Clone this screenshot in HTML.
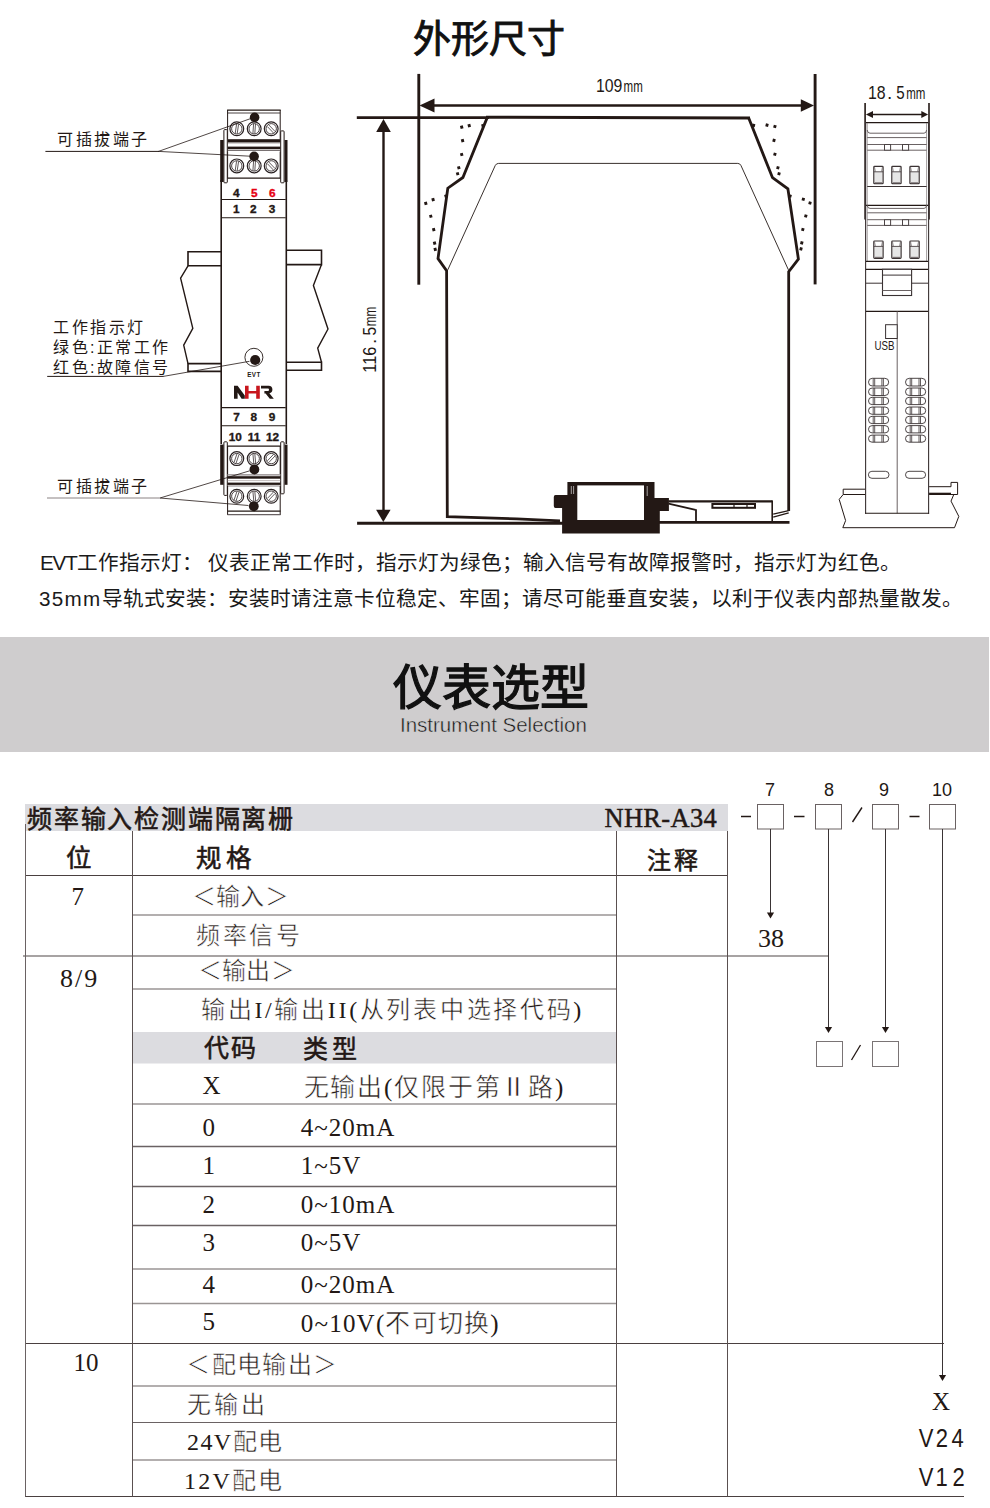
<!DOCTYPE html>
<html lang="zh-CN"><head><meta charset="utf-8">
<style>
*{margin:0;padding:0;box-sizing:border-box}
html,body{width:990px;height:1508px;background:#fff;overflow:hidden}
body{position:relative;font-family:"Liberation Sans",sans-serif;color:#231815}
.a{position:absolute;white-space:nowrap;line-height:1}
#band{position:absolute;left:0;top:637px;width:989px;height:115px;background:#cfcdce}
svg{position:absolute;left:0;top:0}
</style></head><body>
<div id="band"></div>
<svg width="990" height="1508" viewBox="0 0 990 1508"><rect x="25" y="804" width="703" height="27" fill="#dcdce0"/><rect x="132" y="1032" width="485" height="31.5" fill="#dcdce0"/><line x1="25" y1="875.5" x2="728" y2="875.5" stroke="#4a4040" stroke-width="1"/><line x1="132" y1="915" x2="617" y2="915" stroke="#9a9594" stroke-width="1.6"/><line x1="23" y1="956" x2="829" y2="956" stroke="#8a8485" stroke-width="1.6"/><line x1="132" y1="989" x2="616" y2="989" stroke="#9a9594" stroke-width="1.6"/><line x1="132" y1="1104" x2="617" y2="1104" stroke="#9a9594" stroke-width="1.3"/><line x1="132" y1="1146.5" x2="617" y2="1146.5" stroke="#6a6263" stroke-width="1.3"/><line x1="132" y1="1186.5" x2="617" y2="1186.5" stroke="#6a6263" stroke-width="1.3"/><line x1="132" y1="1225.5" x2="617" y2="1225.5" stroke="#6a6263" stroke-width="1.3"/><line x1="132" y1="1269" x2="617" y2="1269" stroke="#9a9594" stroke-width="1.3"/><line x1="132" y1="1303.5" x2="617" y2="1303.5" stroke="#9a9594" stroke-width="1.3"/><line x1="25" y1="1343.5" x2="944" y2="1343.5" stroke="#4a4040" stroke-width="1"/><line x1="132" y1="1386" x2="617" y2="1386" stroke="#9a9594" stroke-width="1.6"/><line x1="132" y1="1422.5" x2="617" y2="1422.5" stroke="#6a6263" stroke-width="1.2"/><line x1="132" y1="1460" x2="617" y2="1460" stroke="#9a9594" stroke-width="1.6"/><line x1="25" y1="1496.5" x2="964" y2="1496.5" stroke="#4a4040" stroke-width="1"/><line x1="25.5" y1="824" x2="25.5" y2="1496.5" stroke="#6a6263" stroke-width="1"/><line x1="132.5" y1="831" x2="132.5" y2="1496.5" stroke="#5a5050" stroke-width="1"/><line x1="616.5" y1="831" x2="616.5" y2="1496.5" stroke="#5a5050" stroke-width="1"/><line x1="727.5" y1="831" x2="727.5" y2="1496.5" stroke="#5a5050" stroke-width="1"/><rect x="757.5" y="804.5" width="26" height="24.5" fill="none" stroke="#6a6263" stroke-width="1"/><rect x="815.5" y="804.5" width="26" height="24.5" fill="none" stroke="#6a6263" stroke-width="1"/><rect x="872.5" y="804.5" width="26" height="24.5" fill="none" stroke="#6a6263" stroke-width="1"/><rect x="929.5" y="804.5" width="26" height="24.5" fill="none" stroke="#6a6263" stroke-width="1"/><line x1="741" y1="816.5" x2="751" y2="816.5" stroke="#231815" stroke-width="1.5"/><line x1="794" y1="816.5" x2="804.5" y2="816.5" stroke="#231815" stroke-width="1.5"/><line x1="909.5" y1="816.5" x2="919.5" y2="816.5" stroke="#231815" stroke-width="1.5"/><line x1="852.5" y1="822" x2="862" y2="807.5" stroke="#231815" stroke-width="1.4"/><line x1="770.5" y1="829" x2="770.5" y2="913" stroke="#3a3435" stroke-width="1"/><line x1="828.5" y1="829" x2="828.5" y2="1028" stroke="#3a3435" stroke-width="1"/><line x1="885.5" y1="829" x2="885.5" y2="1028" stroke="#3a3435" stroke-width="1"/><line x1="942.5" y1="829" x2="942.5" y2="1376" stroke="#3a3435" stroke-width="1"/><path d="M766.9 912.5 L774.1 912.5 L770.5 918.5 Z" fill="#231815"/><path d="M824.9 1027 L832.1 1027 L828.5 1033 Z" fill="#231815"/><path d="M881.9 1027 L889.1 1027 L885.5 1033 Z" fill="#231815"/><path d="M938.9 1375 L946.1 1375 L942.5 1381 Z" fill="#231815"/><rect x="816.5" y="1041.5" width="26" height="25" fill="none" stroke="#7a7475" stroke-width="1"/><rect x="872.5" y="1041.5" width="26" height="25" fill="none" stroke="#7a7475" stroke-width="1"/><line x1="851.5" y1="1060" x2="860.5" y2="1045" stroke="#231815" stroke-width="1.3"/><line x1="227.1" y1="110.2" x2="280.7" y2="110.2" stroke="#231815" stroke-width="1.3" />
<line x1="227.6" y1="113.0" x2="280.2" y2="113.0" stroke="#4a4243" stroke-width="1.0" />
<line x1="227.6" y1="110" x2="227.6" y2="139.5" stroke="#231815" stroke-width="1.0" />
<line x1="280.2" y1="110" x2="280.2" y2="139.5" stroke="#231815" stroke-width="1.0" />
<circle cx="236.8" cy="128.8" r="6.9" stroke="#2a2223" stroke-width="1.2" fill="none"/>
<circle cx="236.8" cy="128.8" r="5.2" stroke="#4a4243" stroke-width="1.0" fill="none"/>
<line x1="235.20000000000002" y1="133.4" x2="236.60000000000002" y2="124.00000000000001" stroke="#3a3233" stroke-width="0.8" />
<line x1="237.20000000000002" y1="133.60000000000002" x2="238.60000000000002" y2="124.20000000000002" stroke="#3a3233" stroke-width="0.8" />
<circle cx="254.2" cy="128.8" r="6.9" stroke="#2a2223" stroke-width="1.2" fill="none"/>
<circle cx="254.2" cy="128.8" r="5.2" stroke="#4a4243" stroke-width="1.0" fill="none"/>
<line x1="252.89999999999998" y1="133.70000000000002" x2="253.6" y2="123.9" stroke="#3a3233" stroke-width="0.8" />
<line x1="254.79999999999998" y1="133.70000000000002" x2="255.5" y2="123.9" stroke="#3a3233" stroke-width="0.8" />
<circle cx="271.2" cy="128.8" r="6.9" stroke="#2a2223" stroke-width="1.2" fill="none"/>
<circle cx="271.2" cy="128.8" r="5.2" stroke="#4a4243" stroke-width="1.0" fill="none"/>
<line x1="267.3" y1="126.50000000000001" x2="273.7" y2="133.20000000000002" stroke="#3a3233" stroke-width="0.8" />
<line x1="268.7" y1="124.80000000000001" x2="275.09999999999997" y2="131.5" stroke="#3a3233" stroke-width="0.8" />
<rect x="227.5" y="139.2" width="53" height="3.3" fill="#231815"/>
<line x1="227.5" y1="143.2" x2="280.5" y2="143.2" stroke="#9a9090" stroke-width="0.6" />
<rect x="227.5" y="146.6" width="53" height="2.6" fill="#231815"/>
<line x1="227.5" y1="150.4" x2="280.5" y2="150.4" stroke="#6a6263" stroke-width="1.0" />
<line x1="227.6" y1="151.5" x2="227.6" y2="178.5" stroke="#231815" stroke-width="1.0" />
<line x1="280.2" y1="151.5" x2="280.2" y2="178.5" stroke="#231815" stroke-width="1.0" />
<circle cx="236.8" cy="165.9" r="6.9" stroke="#2a2223" stroke-width="1.2" fill="none"/>
<circle cx="236.8" cy="165.9" r="5.2" stroke="#4a4243" stroke-width="1.0" fill="none"/>
<line x1="235.20000000000002" y1="170.5" x2="236.60000000000002" y2="161.1" stroke="#3a3233" stroke-width="0.8" />
<line x1="237.20000000000002" y1="170.70000000000002" x2="238.60000000000002" y2="161.3" stroke="#3a3233" stroke-width="0.8" />
<circle cx="254.2" cy="165.9" r="6.9" stroke="#2a2223" stroke-width="1.2" fill="none"/>
<circle cx="254.2" cy="165.9" r="5.2" stroke="#4a4243" stroke-width="1.0" fill="none"/>
<line x1="252.89999999999998" y1="170.8" x2="253.6" y2="161.0" stroke="#3a3233" stroke-width="0.8" />
<line x1="254.79999999999998" y1="170.8" x2="255.5" y2="161.0" stroke="#3a3233" stroke-width="0.8" />
<circle cx="271.2" cy="165.9" r="6.9" stroke="#2a2223" stroke-width="1.2" fill="none"/>
<circle cx="271.2" cy="165.9" r="5.2" stroke="#4a4243" stroke-width="1.0" fill="none"/>
<line x1="267.3" y1="163.6" x2="273.7" y2="170.3" stroke="#3a3233" stroke-width="0.8" />
<line x1="268.7" y1="161.9" x2="275.09999999999997" y2="168.6" stroke="#3a3233" stroke-width="0.8" />
<line x1="227.5" y1="178.1" x2="280.5" y2="178.1" stroke="#231815" stroke-width="1.4" />
<rect x="223.9" y="129.6" width="3.4" height="53.2" stroke="#231815" stroke-width="1.0" fill="#fff" rx="0.8"/>
<rect x="280.7" y="130.9" width="3.4" height="51.9" stroke="#231815" stroke-width="1.0" fill="#fff" rx="0.8"/>
<rect x="220.2" y="140" width="3.4" height="42" fill="#231815"/>
<rect x="284.6" y="140" width="2.9" height="42" fill="#231815"/>
<line x1="221.2" y1="180" x2="221.2" y2="444" stroke="#231815" stroke-width="1.6" />
<line x1="286.3" y1="180" x2="286.3" y2="444" stroke="#231815" stroke-width="1.6" />
<circle cx="254.6" cy="117.4" r="4.8" fill="#231815"/>
<circle cx="254.1" cy="156.4" r="4.8" fill="#231815"/>
<line x1="158.5" y1="151.4" x2="250" y2="118.8" stroke="#231815" stroke-width="0.8" />
<line x1="158.5" y1="151.4" x2="250" y2="156.2" stroke="#231815" stroke-width="0.8" />
<line x1="45.4" y1="151.4" x2="159" y2="151.4" stroke="#231815" stroke-width="1.0" />
<line x1="221.9" y1="199.5" x2="285.7" y2="199.5" stroke="#231815" stroke-width="1.1" />
<line x1="221.9" y1="217.7" x2="285.7" y2="217.7" stroke="#231815" stroke-width="1.1" />
<path d="M221 251.7 L188 251.7 L188 265.8 L221 265.8" stroke="#231815" stroke-width="1.6" fill="none" stroke-linejoin="miter" />
<path d="M188 265.8 L180.6 278.1 L192.8 328.4 L183.7 345.1 L188 363.6" stroke="#231815" stroke-width="1.4" fill="none" stroke-linejoin="miter" />
<path d="M221 363.6 L188 363.6 L188 371.4 L221 371.4" stroke="#231815" stroke-width="1.6" fill="none" stroke-linejoin="miter" />
<path d="M286.8 250.3 L321.5 250.3 L321.5 264.6 L286.8 264.6" stroke="#231815" stroke-width="1.6" fill="none" stroke-linejoin="miter" />
<path d="M321.5 264.6 L313.4 285.5 L328 329 L317.7 348.2 L321.5 362.3" stroke="#231815" stroke-width="1.4" fill="none" stroke-linejoin="miter" />
<path d="M286.8 362.3 L321.5 362.3 L321.5 370.2 L286.8 370.2" stroke="#231815" stroke-width="1.6" fill="none" stroke-linejoin="miter" />
<circle cx="253.9" cy="357.3" r="9.0" stroke="#231815" stroke-width="0.9" fill="none"/>
<circle cx="255.2" cy="360.0" r="5.1" fill="#231815"/>
<line x1="249.5" y1="361.3" x2="163.3" y2="376.4" stroke="#231815" stroke-width="0.8" />
<line x1="47.2" y1="376.4" x2="163.6" y2="376.4" stroke="#231815" stroke-width="1.0" />
<path d="M234 385.8 L237.6 385.8 L244.8 395.6 L244.8 398.7 L241.6 398.7 L237.6 392.6 L237.6 398.7 L234 398.7 Z" fill="#231815"/>
<path d="M245 385.8 L248.6 385.8 L248.6 390.9 L256.2 390.9 L256.2 385.8 L259.8 385.8 L259.8 398.7 L256.2 398.7 L256.2 393.6 L248.6 393.6 L248.6 398.7 L245 398.7 Z" fill="#c8161d"/>
<path d="M261 385.8 L268.6 385.8 Q272.4 385.8 272.4 389.6 Q272.4 392.7 269.4 393.3 L273.8 398.7 L269.8 398.7 L265.6 393.5 L264.4 393.5 L264.4 391.0 L268.0 391.0 Q269.0 391.0 269.0 389.7 Q269.0 388.4 268.0 388.4 L261 388.4 Z" fill="#231815"/>
<line x1="221.9" y1="407.6" x2="285.7" y2="407.6" stroke="#231815" stroke-width="1.1" />
<line x1="221.9" y1="425.8" x2="285.7" y2="425.8" stroke="#231815" stroke-width="1.1" />
<rect x="223.9" y="441.8" width="3.4" height="53.6" stroke="#231815" stroke-width="1.0" fill="#fff" rx="0.8"/>
<rect x="280.7" y="441.8" width="3.4" height="52.0" stroke="#231815" stroke-width="1.0" fill="#fff" rx="0.8"/>
<rect x="220.2" y="444.6" width="3.4" height="40.2" fill="#231815"/>
<rect x="284.6" y="444.6" width="2.9" height="40.2" fill="#231815"/>
<line x1="227.5" y1="446.1" x2="280.5" y2="446.1" stroke="#231815" stroke-width="1.4" />
<line x1="227.6" y1="446" x2="227.6" y2="474" stroke="#231815" stroke-width="1.0" />
<line x1="280.2" y1="446" x2="280.2" y2="474" stroke="#231815" stroke-width="1.0" />
<circle cx="236.8" cy="458.6" r="6.9" stroke="#2a2223" stroke-width="1.2" fill="none"/>
<circle cx="236.8" cy="458.6" r="5.2" stroke="#4a4243" stroke-width="1.0" fill="none"/>
<line x1="234.0" y1="462.6" x2="237.0" y2="453.70000000000005" stroke="#3a3233" stroke-width="0.8" />
<line x1="236.0" y1="463.40000000000003" x2="239.0" y2="454.5" stroke="#3a3233" stroke-width="0.8" />
<circle cx="254.2" cy="458.6" r="6.9" stroke="#2a2223" stroke-width="1.2" fill="none"/>
<circle cx="254.2" cy="458.6" r="5.2" stroke="#4a4243" stroke-width="1.0" fill="none"/>
<line x1="252.89999999999998" y1="453.70000000000005" x2="253.79999999999998" y2="463.5" stroke="#3a3233" stroke-width="0.8" />
<line x1="254.79999999999998" y1="453.70000000000005" x2="255.7" y2="463.5" stroke="#3a3233" stroke-width="0.8" />
<circle cx="271.2" cy="458.6" r="6.9" stroke="#2a2223" stroke-width="1.2" fill="none"/>
<circle cx="271.2" cy="458.6" r="5.2" stroke="#4a4243" stroke-width="1.0" fill="none"/>
<line x1="267.3" y1="460.90000000000003" x2="273.7" y2="454.20000000000005" stroke="#3a3233" stroke-width="0.8" />
<line x1="268.7" y1="462.6" x2="275.09999999999997" y2="455.90000000000003" stroke="#3a3233" stroke-width="0.8" />
<line x1="227.5" y1="474.8" x2="280.5" y2="474.8" stroke="#8a8283" stroke-width="1.2" />
<rect x="227.5" y="476.2" width="53" height="2.5" fill="#231815"/>
<line x1="227.5" y1="480.6" x2="280.5" y2="480.6" stroke="#9a9090" stroke-width="0.6" />
<rect x="227.5" y="482.6" width="53" height="2.3" fill="#231815"/>
<line x1="227.5" y1="486" x2="280.5" y2="486" stroke="#8a8283" stroke-width="1.0" />
<line x1="227.6" y1="486" x2="227.6" y2="515" stroke="#231815" stroke-width="1.0" />
<line x1="280.2" y1="486" x2="280.2" y2="515" stroke="#231815" stroke-width="1.0" />
<circle cx="236.8" cy="496.2" r="6.9" stroke="#2a2223" stroke-width="1.2" fill="none"/>
<circle cx="236.8" cy="496.2" r="5.2" stroke="#4a4243" stroke-width="1.0" fill="none"/>
<line x1="234.0" y1="500.2" x2="237.0" y2="491.3" stroke="#3a3233" stroke-width="0.8" />
<line x1="236.0" y1="501.0" x2="239.0" y2="492.09999999999997" stroke="#3a3233" stroke-width="0.8" />
<circle cx="254.2" cy="496.2" r="6.9" stroke="#2a2223" stroke-width="1.2" fill="none"/>
<circle cx="254.2" cy="496.2" r="5.2" stroke="#4a4243" stroke-width="1.0" fill="none"/>
<line x1="252.89999999999998" y1="491.3" x2="253.79999999999998" y2="501.09999999999997" stroke="#3a3233" stroke-width="0.8" />
<line x1="254.79999999999998" y1="491.3" x2="255.7" y2="501.09999999999997" stroke="#3a3233" stroke-width="0.8" />
<circle cx="271.2" cy="496.2" r="6.9" stroke="#2a2223" stroke-width="1.2" fill="none"/>
<circle cx="271.2" cy="496.2" r="5.2" stroke="#4a4243" stroke-width="1.0" fill="none"/>
<line x1="267.3" y1="498.5" x2="273.7" y2="491.8" stroke="#3a3233" stroke-width="0.8" />
<line x1="268.7" y1="500.2" x2="275.09999999999997" y2="493.5" stroke="#3a3233" stroke-width="0.8" />
<line x1="227.5" y1="511.1" x2="280.5" y2="511.1" stroke="#231815" stroke-width="1.3" />
<line x1="227.5" y1="514.7" x2="280.5" y2="514.7" stroke="#6a6263" stroke-width="1.3" />
<circle cx="254.4" cy="469.5" r="4.9" fill="#231815"/>
<circle cx="253.8" cy="506.3" r="4.9" fill="#231815"/>
<line x1="160" y1="498" x2="249.7" y2="470.8" stroke="#231815" stroke-width="0.8" />
<line x1="160" y1="498" x2="248.5" y2="505.5" stroke="#231815" stroke-width="0.8" />
<line x1="47" y1="498" x2="161" y2="498" stroke="#8a8283" stroke-width="1.0" />
<text x="236.2" y="196.7" font-size="11.8" fill="#231815" font-weight="700" font-family="'Liberation Sans',sans-serif" text-anchor="middle" stroke="#231815" stroke-width="0.35">4</text>
<text x="254.2" y="196.7" font-size="11.8" fill="#e60012" font-weight="700" font-family="'Liberation Sans',sans-serif" text-anchor="middle" stroke="#e60012" stroke-width="0.35">5</text>
<text x="272.2" y="196.7" font-size="11.8" fill="#e60012" font-weight="700" font-family="'Liberation Sans',sans-serif" text-anchor="middle" stroke="#e60012" stroke-width="0.35">6</text>
<text x="236.2" y="213.2" font-size="11.8" fill="#231815" font-weight="700" font-family="'Liberation Sans',sans-serif" text-anchor="middle" stroke="#231815" stroke-width="0.35">1</text>
<text x="253.2" y="213.2" font-size="11.8" fill="#231815" font-weight="700" font-family="'Liberation Sans',sans-serif" text-anchor="middle" stroke="#231815" stroke-width="0.35">2</text>
<text x="272" y="213.2" font-size="11.8" fill="#231815" font-weight="700" font-family="'Liberation Sans',sans-serif" text-anchor="middle" stroke="#231815" stroke-width="0.35">3</text>
<text x="236.5" y="420.9" font-size="11.8" fill="#231815" font-weight="700" font-family="'Liberation Sans',sans-serif" text-anchor="middle" stroke="#231815" stroke-width="0.35">7</text>
<text x="253.8" y="420.9" font-size="11.8" fill="#231815" font-weight="700" font-family="'Liberation Sans',sans-serif" text-anchor="middle" stroke="#231815" stroke-width="0.35">8</text>
<text x="272" y="420.9" font-size="11.8" fill="#231815" font-weight="700" font-family="'Liberation Sans',sans-serif" text-anchor="middle" stroke="#231815" stroke-width="0.35">9</text>
<text x="235.2" y="440.7" font-size="11.8" fill="#231815" font-weight="700" font-family="'Liberation Sans',sans-serif" text-anchor="middle" stroke="#231815" stroke-width="0.35">10</text>
<text x="254" y="440.7" font-size="11.8" fill="#231815" font-weight="700" font-family="'Liberation Sans',sans-serif" text-anchor="middle" stroke="#231815" stroke-width="0.35">11</text>
<text x="272.6" y="440.7" font-size="11.8" fill="#231815" font-weight="700" font-family="'Liberation Sans',sans-serif" text-anchor="middle" stroke="#231815" stroke-width="0.35">12</text>
<text x="254" y="377.0" font-size="6.3" fill="#231815" font-weight="700" font-family="'Liberation Sans',sans-serif" text-anchor="middle" letter-spacing="0.5">EVT</text>
<line x1="418.8" y1="73.9" x2="418.8" y2="284.7" stroke="#231815" stroke-width="2.9" />
<line x1="815.1" y1="74" x2="815.1" y2="284.4" stroke="#231815" stroke-width="2.9" />
<line x1="432" y1="105.5" x2="802" y2="105.5" stroke="#231815" stroke-width="2.6" />
<path d="M419.5 105.5 L434.5 98.6 L434.5 112.4 Z" fill="#231815"/>
<path d="M814 105.5 L800.8 99.2 L800.8 111.8 Z" fill="#231815"/>
<line x1="356.8" y1="117.6" x2="489" y2="117.6" stroke="#231815" stroke-width="2.9" />
<line x1="486" y1="117.2" x2="750" y2="118.0" stroke="#231815" stroke-width="2.9" />
<line x1="383.5" y1="129" x2="383.5" y2="512" stroke="#231815" stroke-width="2.4" />
<path d="M383.5 119.1 L376.2 132 L390.8 132 Z" fill="#231815"/>
<path d="M383.3 522 L376.1 509.8 L390.6 509.8 Z" fill="#231815"/>
<line x1="357.1" y1="523.3" x2="563" y2="523.3" stroke="#231815" stroke-width="2.9" />
<line x1="659" y1="522.4" x2="789.5" y2="522.4" stroke="#231815" stroke-width="2.9" />
<path d="M487.6 116.6 L462.9 177.5 L447.8 188.2 L438 258.6 L446.6 270.8 L447.3 516.7 L516.7 518.9 L560 520.8" stroke="#231815" stroke-width="2.8" fill="none" stroke-linejoin="miter" />
<path d="M748.6 117.8 L772.5 177.7 L787.9 188.9 L798.4 259 L788.7 271.7 L788.7 511" stroke="#231815" stroke-width="2.8" fill="none" stroke-linejoin="miter" />
<line x1="788.7" y1="510.6" x2="773.2" y2="514.2" stroke="#231815" stroke-width="1.3" />
<line x1="788.7" y1="512.8" x2="773.2" y2="517.2" stroke="#231815" stroke-width="1.3" />
<path d="M447.8 269.8 L495.2 165.6 Q496.2 163.4 498.6 163.4 L737.8 163.4 Q740 163.4 741 165.6 L788.4 269.8" stroke="#231815" stroke-width="0.9" fill="none"/>
<rect x="460.25" y="125.64999999999999" width="2.9" height="2.9" fill="#231815" transform="rotate(-15 461.7 127.1)"/>
<rect x="467.75" y="124.14999999999999" width="2.9" height="2.9" fill="#231815" transform="rotate(-15 469.2 125.6)"/>
<rect x="481.45" y="124.14999999999999" width="2.9" height="2.9" fill="#231815" transform="rotate(-15 482.9 125.6)"/>
<rect x="461.15000000000003" y="139.15" width="2.9" height="2.9" fill="#231815" transform="rotate(-15 462.6 140.6)"/>
<rect x="460.25" y="153.05" width="2.9" height="2.9" fill="#231815" transform="rotate(-15 461.7 154.5)"/>
<rect x="457.35" y="166.25" width="2.9" height="2.9" fill="#231815" transform="rotate(-15 458.8 167.7)"/>
<rect x="456.15000000000003" y="172.25" width="2.9" height="2.9" fill="#231815" transform="rotate(-15 457.6 173.7)"/>
<rect x="444.45" y="194.55" width="2.9" height="2.9" fill="#231815" transform="rotate(-15 445.9 196)"/>
<rect x="431.65000000000003" y="198.15" width="2.9" height="2.9" fill="#231815" transform="rotate(-15 433.1 199.6)"/>
<rect x="424.35" y="201.95000000000002" width="2.9" height="2.9" fill="#231815" transform="rotate(-15 425.8 203.4)"/>
<rect x="429.35" y="214.75" width="2.9" height="2.9" fill="#231815" transform="rotate(-15 430.8 216.2)"/>
<rect x="432.25" y="228.15" width="2.9" height="2.9" fill="#231815" transform="rotate(-15 433.7 229.6)"/>
<rect x="433.15000000000003" y="241.65" width="2.9" height="2.9" fill="#231815" transform="rotate(-15 434.6 243.1)"/>
<rect x="433.75" y="247.95000000000002" width="2.9" height="2.9" fill="#231815" transform="rotate(-15 435.2 249.4)"/>
<rect x="752.15" y="123.95" width="2.9" height="2.9" fill="#231815" transform="rotate(15 753.6 125.4)"/>
<rect x="765.55" y="123.64999999999999" width="2.9" height="2.9" fill="#231815" transform="rotate(15 767 125.1)"/>
<rect x="773.4499999999999" y="125.05" width="2.9" height="2.9" fill="#231815" transform="rotate(15 774.9 126.5)"/>
<rect x="772.55" y="138.95000000000002" width="2.9" height="2.9" fill="#231815" transform="rotate(15 774 140.4)"/>
<rect x="773.4499999999999" y="152.85000000000002" width="2.9" height="2.9" fill="#231815" transform="rotate(15 774.9 154.3)"/>
<rect x="776.4499999999999" y="166.25" width="2.9" height="2.9" fill="#231815" transform="rotate(15 777.9 167.7)"/>
<rect x="777.55" y="172.25" width="2.9" height="2.9" fill="#231815" transform="rotate(15 779 173.7)"/>
<rect x="788.65" y="194.55" width="2.9" height="2.9" fill="#231815" transform="rotate(15 790.1 196)"/>
<rect x="801.8499999999999" y="197.85000000000002" width="2.9" height="2.9" fill="#231815" transform="rotate(15 803.3 199.3)"/>
<rect x="808.55" y="201.55" width="2.9" height="2.9" fill="#231815" transform="rotate(15 810 203)"/>
<rect x="804.3499999999999" y="214.55" width="2.9" height="2.9" fill="#231815" transform="rotate(15 805.8 216)"/>
<rect x="801.3499999999999" y="228.05" width="2.9" height="2.9" fill="#231815" transform="rotate(15 802.8 229.5)"/>
<rect x="800.3499999999999" y="241.45000000000002" width="2.9" height="2.9" fill="#231815" transform="rotate(15 801.8 242.9)"/>
<rect x="799.55" y="247.45000000000002" width="2.9" height="2.9" fill="#231815" transform="rotate(15 801 248.9)"/>
<path d="M567.4 482.1 L654.5 482.1 L654.5 498 L668.9 498 L668.9 510.9 L659.8 510.9 L659.8 533.6 L562.1 533.6 L562.1 507.9 L555.5 507.9 Q553.8 507.9 553.8 506 L553.8 497 Q553.8 495 555.5 495 L567.4 495 Z" fill="#231815"/>
<rect x="577.3" y="485.4" width="66.7" height="34.6" fill="#fff"/>
<line x1="571.3" y1="486" x2="571.3" y2="494" stroke="#fff" stroke-width="0.6" />
<line x1="573.6" y1="486" x2="573.6" y2="494" stroke="#fff" stroke-width="0.6" />
<line x1="647.2" y1="486" x2="647.2" y2="496" stroke="#fff" stroke-width="0.6" />
<line x1="668.5" y1="501.4" x2="772.4" y2="501.4" stroke="#231815" stroke-width="2.1" />
<line x1="772.2" y1="500.5" x2="772.2" y2="521.5" stroke="#231815" stroke-width="1.6" />
<rect x="712.4" y="504.0" width="42.6" height="3.8" stroke="#231815" stroke-width="2.0" fill="none" />
<line x1="734" y1="504" x2="734" y2="508" stroke="#231815" stroke-width="1.2" />
<line x1="747" y1="504" x2="747" y2="508" stroke="#231815" stroke-width="1.2" />
<line x1="668.5" y1="503.6" x2="695.6" y2="509.9" stroke="#231815" stroke-width="1.8" />
<line x1="696" y1="509.2" x2="696" y2="521.5" stroke="#231815" stroke-width="1.8" />
<text x="596" y="92.2" font-size="18" fill="#231815" font-family="'Liberation Sans',sans-serif" textLength="26.4" lengthAdjust="spacingAndGlyphs">109</text>
<text x="623.6" y="92.2" font-size="17" fill="#231815" font-family="'Liberation Sans',sans-serif" textLength="19.2" lengthAdjust="spacingAndGlyphs">mm</text>
<g transform="translate(376,372.7) rotate(-90)"><text x="0" y="0" font-size="19" fill="#231815" font-family="'Liberation Sans',sans-serif" textLength="26" lengthAdjust="spacingAndGlyphs">116</text><text x="28.6" y="0" font-size="19" fill="#231815" font-family="'Liberation Sans',sans-serif">.</text><text x="37.2" y="0" font-size="19" fill="#231815" font-family="'Liberation Sans',sans-serif" textLength="8.6" lengthAdjust="spacingAndGlyphs">5</text><text x="46.4" y="0" font-size="17" fill="#231815" font-family="'Liberation Sans',sans-serif" textLength="19.6" lengthAdjust="spacingAndGlyphs">mm</text></g>
<line x1="865.1" y1="102.9" x2="865.1" y2="219.5" stroke="#231815" stroke-width="1.6" />
<line x1="929" y1="102.9" x2="929" y2="219.5" stroke="#231815" stroke-width="1.6" />
<line x1="870" y1="114.4" x2="924" y2="114.4" stroke="#231815" stroke-width="1.5" />
<path d="M865.9 114.4 L873 110.9 L873 117.9 Z" fill="#231815"/>
<path d="M928.1 114.4 L921.3 110.9 L921.3 117.9 Z" fill="#231815"/>
<text x="868" y="98.8" font-size="19" fill="#231815" font-family="'Liberation Sans',sans-serif" textLength="17.6" lengthAdjust="spacingAndGlyphs">18</text>
<text x="887" y="98.8" font-size="19" fill="#231815" font-family="'Liberation Sans',sans-serif">.</text>
<text x="896.3" y="98.8" font-size="19" fill="#231815" font-family="'Liberation Sans',sans-serif" textLength="8.4" lengthAdjust="spacingAndGlyphs">5</text>
<text x="906.2" y="98.8" font-size="17" fill="#231815" font-family="'Liberation Sans',sans-serif" textLength="19.2" lengthAdjust="spacingAndGlyphs">mm</text>
<line x1="865.6" y1="122" x2="865.6" y2="513.8" stroke="#3a3233" stroke-width="1.1" />
<line x1="928.6" y1="122" x2="928.6" y2="513.8" stroke="#3a3233" stroke-width="1.1" />
<line x1="866" y1="122.7" x2="928" y2="122.7" stroke="#231815" stroke-width="1.3" />
<line x1="867.2" y1="123" x2="867.2" y2="261.5" stroke="#8a8485" stroke-width="0.8" />
<line x1="926.6" y1="123" x2="926.6" y2="261.5" stroke="#8a8485" stroke-width="0.8" />
<path d="M867.2 130.0 Q867.4 133.2 870 133.2 L924 133.2 Q926.4 133.2 926.6 130.0" stroke="#6a6263" stroke-width="1" fill="none"/>
<line x1="867.2" y1="137.6" x2="926.6" y2="137.6" stroke="#6a6263" stroke-width="1.0" />
<line x1="867.2" y1="144.5" x2="926.6" y2="144.5" stroke="#6a6263" stroke-width="1.0" />
<line x1="867.2" y1="150.2" x2="926.6" y2="150.2" stroke="#6a6263" stroke-width="1.0" />
<rect x="884.5" y="144.5" width="6.1" height="5.7" stroke="#4a4243" stroke-width="1.0" fill="#fff" />
<rect x="902.5" y="144.5" width="6.1" height="5.7" stroke="#4a4243" stroke-width="1.0" fill="#fff" />
<rect x="874.7" y="171.8" width="7.5" height="10.5" stroke="none" stroke-width="0" fill="#e6e6e6" />
<rect x="873.8000000000001" y="166.4" width="9.3" height="17.3" stroke="#3a3233" stroke-width="1.2" fill="none" rx="0.8"/>
<line x1="873.8000000000001" y1="171.8" x2="883.1" y2="171.8" stroke="#4a4243" stroke-width="0.9" />
<line x1="874.4000000000001" y1="166.8" x2="875.6" y2="171.8" stroke="#6a6263" stroke-width="0.6" />
<line x1="882.5" y1="166.8" x2="881.3000000000001" y2="171.8" stroke="#6a6263" stroke-width="0.6" />
<line x1="874.7" y1="182.8" x2="882.3000000000001" y2="182.8" stroke="#7a7273" stroke-width="1.2" />
<rect x="892.7" y="171.8" width="7.5" height="10.5" stroke="none" stroke-width="0" fill="#e6e6e6" />
<rect x="891.8000000000001" y="166.4" width="9.3" height="17.3" stroke="#3a3233" stroke-width="1.2" fill="none" rx="0.8"/>
<line x1="891.8000000000001" y1="171.8" x2="901.1" y2="171.8" stroke="#4a4243" stroke-width="0.9" />
<line x1="892.4000000000001" y1="166.8" x2="893.6" y2="171.8" stroke="#6a6263" stroke-width="0.6" />
<line x1="900.5" y1="166.8" x2="899.3000000000001" y2="171.8" stroke="#6a6263" stroke-width="0.6" />
<line x1="892.7" y1="182.8" x2="900.3000000000001" y2="182.8" stroke="#7a7273" stroke-width="1.2" />
<rect x="910.8" y="171.8" width="7.5" height="10.5" stroke="none" stroke-width="0" fill="#e6e6e6" />
<rect x="909.9" y="166.4" width="9.3" height="17.3" stroke="#3a3233" stroke-width="1.2" fill="none" rx="0.8"/>
<line x1="909.9" y1="171.8" x2="919.1999999999999" y2="171.8" stroke="#4a4243" stroke-width="0.9" />
<line x1="910.5" y1="166.8" x2="911.6999999999999" y2="171.8" stroke="#6a6263" stroke-width="0.6" />
<line x1="918.5999999999999" y1="166.8" x2="917.4" y2="171.8" stroke="#6a6263" stroke-width="0.6" />
<line x1="910.8" y1="182.8" x2="918.4" y2="182.8" stroke="#7a7273" stroke-width="1.2" />
<line x1="867.2" y1="186.5" x2="926.6" y2="186.5" stroke="#3a3233" stroke-width="1.1" />
<line x1="866" y1="205.4" x2="928" y2="205.4" stroke="#231815" stroke-width="1.3" />
<path d="M867.2 205.20000000000002 Q867.4 208.4 870 208.4 L924 208.4 Q926.4 208.4 926.6 205.20000000000002" stroke="#6a6263" stroke-width="1" fill="none"/>
<line x1="867.2" y1="212.8" x2="926.6" y2="212.8" stroke="#6a6263" stroke-width="1.0" />
<line x1="867.2" y1="219.70000000000002" x2="926.6" y2="219.70000000000002" stroke="#6a6263" stroke-width="1.0" />
<line x1="867.2" y1="225.4" x2="926.6" y2="225.4" stroke="#6a6263" stroke-width="1.0" />
<rect x="884.5" y="219.70000000000002" width="6.1" height="5.7" stroke="#4a4243" stroke-width="1.0" fill="#fff" />
<rect x="902.5" y="219.70000000000002" width="6.1" height="5.7" stroke="#4a4243" stroke-width="1.0" fill="#fff" />
<rect x="874.7" y="246.4" width="7.5" height="10.5" stroke="none" stroke-width="0" fill="#e6e6e6" />
<rect x="873.8000000000001" y="241.0" width="9.3" height="17.3" stroke="#3a3233" stroke-width="1.2" fill="none" rx="0.8"/>
<line x1="873.8000000000001" y1="246.4" x2="883.1" y2="246.4" stroke="#4a4243" stroke-width="0.9" />
<line x1="874.4000000000001" y1="241.4" x2="875.6" y2="246.4" stroke="#6a6263" stroke-width="0.6" />
<line x1="882.5" y1="241.4" x2="881.3000000000001" y2="246.4" stroke="#6a6263" stroke-width="0.6" />
<line x1="874.7" y1="257.4" x2="882.3000000000001" y2="257.4" stroke="#7a7273" stroke-width="1.2" />
<rect x="892.7" y="246.4" width="7.5" height="10.5" stroke="none" stroke-width="0" fill="#e6e6e6" />
<rect x="891.8000000000001" y="241.0" width="9.3" height="17.3" stroke="#3a3233" stroke-width="1.2" fill="none" rx="0.8"/>
<line x1="891.8000000000001" y1="246.4" x2="901.1" y2="246.4" stroke="#4a4243" stroke-width="0.9" />
<line x1="892.4000000000001" y1="241.4" x2="893.6" y2="246.4" stroke="#6a6263" stroke-width="0.6" />
<line x1="900.5" y1="241.4" x2="899.3000000000001" y2="246.4" stroke="#6a6263" stroke-width="0.6" />
<line x1="892.7" y1="257.4" x2="900.3000000000001" y2="257.4" stroke="#7a7273" stroke-width="1.2" />
<rect x="910.8" y="246.4" width="7.5" height="10.5" stroke="none" stroke-width="0" fill="#e6e6e6" />
<rect x="909.9" y="241.0" width="9.3" height="17.3" stroke="#3a3233" stroke-width="1.2" fill="none" rx="0.8"/>
<line x1="909.9" y1="246.4" x2="919.1999999999999" y2="246.4" stroke="#4a4243" stroke-width="0.9" />
<line x1="910.5" y1="241.4" x2="911.6999999999999" y2="246.4" stroke="#6a6263" stroke-width="0.6" />
<line x1="918.5999999999999" y1="241.4" x2="917.4" y2="246.4" stroke="#6a6263" stroke-width="0.6" />
<line x1="910.8" y1="257.4" x2="918.4" y2="257.4" stroke="#7a7273" stroke-width="1.2" />
<line x1="866" y1="261.4" x2="928" y2="261.4" stroke="#231815" stroke-width="1.3" />
<line x1="866" y1="269.3" x2="928" y2="269.3" stroke="#231815" stroke-width="1.2" />
<rect x="882.5" y="269.3" width="29.1" height="26.2" stroke="#3a3233" stroke-width="1.1" fill="#fff" />
<line x1="882.5" y1="275.1" x2="911.6" y2="275.1" stroke="#3a3233" stroke-width="1.0" />
<line x1="882.5" y1="290.5" x2="911.6" y2="290.5" stroke="#6a6263" stroke-width="1.0" />
<line x1="866" y1="283.2" x2="882.5" y2="283.2" stroke="#3a3233" stroke-width="1.0" />
<line x1="911.6" y1="283.2" x2="928" y2="283.2" stroke="#3a3233" stroke-width="1.0" />
<line x1="866" y1="311.4" x2="928" y2="311.4" stroke="#231815" stroke-width="1.2" />
<line x1="897.2" y1="311.4" x2="897.2" y2="513.3" stroke="#6a6263" stroke-width="1.0" />
<rect x="885.6" y="324.7" width="11.6" height="13.8" stroke="#3a3233" stroke-width="1.0" fill="#fff" />
<text x="874.6" y="349.8" font-size="12.5" fill="#231815" font-family="'Liberation Sans',sans-serif" textLength="20" lengthAdjust="spacingAndGlyphs">USB</text>
<rect x="868.5" y="378.3" width="20.200000000000045" height="7.699999999999989" rx="3.8499999999999943" ry="3.8499999999999943" stroke="#3a3233" stroke-width="0.9" fill="none"/>
<line x1="873.2" y1="378.3" x2="873.2" y2="386" stroke="#3a3233" stroke-width="0.8" />
<line x1="874.7" y1="378.3" x2="874.7" y2="386" stroke="#3a3233" stroke-width="0.8" />
<line x1="881.9" y1="378.3" x2="881.9" y2="386" stroke="#3a3233" stroke-width="0.8" />
<line x1="883.4" y1="378.3" x2="883.4" y2="386" stroke="#3a3233" stroke-width="0.8" />
<rect x="905.5" y="378.3" width="20.200000000000045" height="7.699999999999989" rx="3.8499999999999943" ry="3.8499999999999943" stroke="#3a3233" stroke-width="0.9" fill="none"/>
<line x1="910.2" y1="378.3" x2="910.2" y2="386" stroke="#3a3233" stroke-width="0.8" />
<line x1="911.7" y1="378.3" x2="911.7" y2="386" stroke="#3a3233" stroke-width="0.8" />
<line x1="919" y1="378.3" x2="919" y2="386" stroke="#3a3233" stroke-width="0.8" />
<line x1="920.5" y1="378.3" x2="920.5" y2="386" stroke="#3a3233" stroke-width="0.8" />
<rect x="868.5" y="388" width="20.200000000000045" height="7.5" rx="3.75" ry="3.75" stroke="#3a3233" stroke-width="0.9" fill="none"/>
<line x1="873.2" y1="388" x2="873.2" y2="395.5" stroke="#3a3233" stroke-width="0.8" />
<line x1="874.7" y1="388" x2="874.7" y2="395.5" stroke="#3a3233" stroke-width="0.8" />
<line x1="881.9" y1="388" x2="881.9" y2="395.5" stroke="#3a3233" stroke-width="0.8" />
<line x1="883.4" y1="388" x2="883.4" y2="395.5" stroke="#3a3233" stroke-width="0.8" />
<rect x="905.5" y="388" width="20.200000000000045" height="7.5" rx="3.75" ry="3.75" stroke="#3a3233" stroke-width="0.9" fill="none"/>
<line x1="910.2" y1="388" x2="910.2" y2="395.5" stroke="#3a3233" stroke-width="0.8" />
<line x1="911.7" y1="388" x2="911.7" y2="395.5" stroke="#3a3233" stroke-width="0.8" />
<line x1="919" y1="388" x2="919" y2="395.5" stroke="#3a3233" stroke-width="0.8" />
<line x1="920.5" y1="388" x2="920.5" y2="395.5" stroke="#3a3233" stroke-width="0.8" />
<rect x="868.5" y="397.3" width="20.200000000000045" height="7.300000000000011" rx="3.6500000000000057" ry="3.6500000000000057" stroke="#3a3233" stroke-width="0.9" fill="none"/>
<line x1="873.2" y1="397.3" x2="873.2" y2="404.6" stroke="#3a3233" stroke-width="0.8" />
<line x1="874.7" y1="397.3" x2="874.7" y2="404.6" stroke="#3a3233" stroke-width="0.8" />
<line x1="881.9" y1="397.3" x2="881.9" y2="404.6" stroke="#3a3233" stroke-width="0.8" />
<line x1="883.4" y1="397.3" x2="883.4" y2="404.6" stroke="#3a3233" stroke-width="0.8" />
<rect x="905.5" y="397.3" width="20.200000000000045" height="7.300000000000011" rx="3.6500000000000057" ry="3.6500000000000057" stroke="#3a3233" stroke-width="0.9" fill="none"/>
<line x1="910.2" y1="397.3" x2="910.2" y2="404.6" stroke="#3a3233" stroke-width="0.8" />
<line x1="911.7" y1="397.3" x2="911.7" y2="404.6" stroke="#3a3233" stroke-width="0.8" />
<line x1="919" y1="397.3" x2="919" y2="404.6" stroke="#3a3233" stroke-width="0.8" />
<line x1="920.5" y1="397.3" x2="920.5" y2="404.6" stroke="#3a3233" stroke-width="0.8" />
<rect x="868.5" y="407" width="20.200000000000045" height="7.300000000000011" rx="3.6500000000000057" ry="3.6500000000000057" stroke="#3a3233" stroke-width="0.9" fill="none"/>
<line x1="873.2" y1="407" x2="873.2" y2="414.3" stroke="#3a3233" stroke-width="0.8" />
<line x1="874.7" y1="407" x2="874.7" y2="414.3" stroke="#3a3233" stroke-width="0.8" />
<line x1="881.9" y1="407" x2="881.9" y2="414.3" stroke="#3a3233" stroke-width="0.8" />
<line x1="883.4" y1="407" x2="883.4" y2="414.3" stroke="#3a3233" stroke-width="0.8" />
<rect x="905.5" y="407" width="20.200000000000045" height="7.300000000000011" rx="3.6500000000000057" ry="3.6500000000000057" stroke="#3a3233" stroke-width="0.9" fill="none"/>
<line x1="910.2" y1="407" x2="910.2" y2="414.3" stroke="#3a3233" stroke-width="0.8" />
<line x1="911.7" y1="407" x2="911.7" y2="414.3" stroke="#3a3233" stroke-width="0.8" />
<line x1="919" y1="407" x2="919" y2="414.3" stroke="#3a3233" stroke-width="0.8" />
<line x1="920.5" y1="407" x2="920.5" y2="414.3" stroke="#3a3233" stroke-width="0.8" />
<rect x="868.5" y="416.3" width="20.200000000000045" height="7.300000000000011" rx="3.6500000000000057" ry="3.6500000000000057" stroke="#3a3233" stroke-width="0.9" fill="none"/>
<line x1="873.2" y1="416.3" x2="873.2" y2="423.6" stroke="#3a3233" stroke-width="0.8" />
<line x1="874.7" y1="416.3" x2="874.7" y2="423.6" stroke="#3a3233" stroke-width="0.8" />
<line x1="881.9" y1="416.3" x2="881.9" y2="423.6" stroke="#3a3233" stroke-width="0.8" />
<line x1="883.4" y1="416.3" x2="883.4" y2="423.6" stroke="#3a3233" stroke-width="0.8" />
<rect x="905.5" y="416.3" width="20.200000000000045" height="7.300000000000011" rx="3.6500000000000057" ry="3.6500000000000057" stroke="#3a3233" stroke-width="0.9" fill="none"/>
<line x1="910.2" y1="416.3" x2="910.2" y2="423.6" stroke="#3a3233" stroke-width="0.8" />
<line x1="911.7" y1="416.3" x2="911.7" y2="423.6" stroke="#3a3233" stroke-width="0.8" />
<line x1="919" y1="416.3" x2="919" y2="423.6" stroke="#3a3233" stroke-width="0.8" />
<line x1="920.5" y1="416.3" x2="920.5" y2="423.6" stroke="#3a3233" stroke-width="0.8" />
<rect x="868.5" y="425.6" width="20.200000000000045" height="7.2999999999999545" rx="3.6499999999999773" ry="3.6499999999999773" stroke="#3a3233" stroke-width="0.9" fill="none"/>
<line x1="873.2" y1="425.6" x2="873.2" y2="432.9" stroke="#3a3233" stroke-width="0.8" />
<line x1="874.7" y1="425.6" x2="874.7" y2="432.9" stroke="#3a3233" stroke-width="0.8" />
<line x1="881.9" y1="425.6" x2="881.9" y2="432.9" stroke="#3a3233" stroke-width="0.8" />
<line x1="883.4" y1="425.6" x2="883.4" y2="432.9" stroke="#3a3233" stroke-width="0.8" />
<rect x="905.5" y="425.6" width="20.200000000000045" height="7.2999999999999545" rx="3.6499999999999773" ry="3.6499999999999773" stroke="#3a3233" stroke-width="0.9" fill="none"/>
<line x1="910.2" y1="425.6" x2="910.2" y2="432.9" stroke="#3a3233" stroke-width="0.8" />
<line x1="911.7" y1="425.6" x2="911.7" y2="432.9" stroke="#3a3233" stroke-width="0.8" />
<line x1="919" y1="425.6" x2="919" y2="432.9" stroke="#3a3233" stroke-width="0.8" />
<line x1="920.5" y1="425.6" x2="920.5" y2="432.9" stroke="#3a3233" stroke-width="0.8" />
<rect x="868.5" y="435.1" width="20.200000000000045" height="7.099999999999966" rx="3.549999999999983" ry="3.549999999999983" stroke="#3a3233" stroke-width="0.9" fill="none"/>
<line x1="873.2" y1="435.1" x2="873.2" y2="442.2" stroke="#3a3233" stroke-width="0.8" />
<line x1="874.7" y1="435.1" x2="874.7" y2="442.2" stroke="#3a3233" stroke-width="0.8" />
<line x1="881.9" y1="435.1" x2="881.9" y2="442.2" stroke="#3a3233" stroke-width="0.8" />
<line x1="883.4" y1="435.1" x2="883.4" y2="442.2" stroke="#3a3233" stroke-width="0.8" />
<rect x="905.5" y="435.1" width="20.200000000000045" height="7.099999999999966" rx="3.549999999999983" ry="3.549999999999983" stroke="#3a3233" stroke-width="0.9" fill="none"/>
<line x1="910.2" y1="435.1" x2="910.2" y2="442.2" stroke="#3a3233" stroke-width="0.8" />
<line x1="911.7" y1="435.1" x2="911.7" y2="442.2" stroke="#3a3233" stroke-width="0.8" />
<line x1="919" y1="435.1" x2="919" y2="442.2" stroke="#3a3233" stroke-width="0.8" />
<line x1="920.5" y1="435.1" x2="920.5" y2="442.2" stroke="#3a3233" stroke-width="0.8" />
<rect x="868.4" y="471.3" width="20.600000000000023" height="7.0" rx="3.5" ry="3.5" stroke="#3a3233" stroke-width="0.9" fill="none"/>
<rect x="905.5" y="471.3" width="20.100000000000023" height="7.0" rx="3.5" ry="3.5" stroke="#3a3233" stroke-width="0.9" fill="none"/>
<line x1="865.1" y1="513.3" x2="929.1" y2="513.3" stroke="#231815" stroke-width="1.1" />
<path d="M865.1 489.2 L843.2 489.2 L843.2 494.5 L865.1 494.5" stroke="#231815" stroke-width="1.0" fill="none" stroke-linejoin="miter" />
<path d="M843.2 494.5 L839.2 499.4 L845.6 520.6 L842.8 527.7 L954.5 527.7 L958.8 516.4 L951 501.1 L953.8 494.5" stroke="#231815" stroke-width="1.0" fill="none" stroke-linejoin="miter" />
<path d="M929.1 486.7 L951 486.7 L951 482.4 L957.6 482.4 L957.6 494.5 L929.1 494.5" stroke="#231815" stroke-width="1.0" fill="none" stroke-linejoin="miter" />
<line x1="929.1" y1="493.4" x2="951" y2="493.4" stroke="#231815" stroke-width="1.4" />
<text transform="translate(918.8,1446.7) scale(0.88,1)" x="0 19.3 37.2" y="0" font-size="25" fill="#231815" font-family="'Liberation Sans',sans-serif">V24</text>
<text transform="translate(918.8,1485.8) scale(0.88,1)" x="0 18.9 38.2" y="0" font-size="25" fill="#231815" font-family="'Liberation Sans',sans-serif">V12</text></svg>
<div class="a" id="t1" style="left:413px;top:20px;font-size:38px;font-family:'Liberation Sans',sans-serif;font-weight:500;color:#111;-webkit-text-stroke:0.9px #111;">外形尺寸</div>
<div class="a" id="l1" style="left:40px;top:553px;font-size:20.65px;font-family:'Liberation Sans',sans-serif;color:#1a1a1a;"><span style="letter-spacing:-1.2px">EVT</span>工作指示灯： 仪表正常工作时，指示灯为绿色；输入信号有故障报警时，指示灯为红色。</div>
<div class="a" id="l2" style="left:39px;top:589px;font-size:20.65px;font-family:'Liberation Sans',sans-serif;color:#1a1a1a;"><span style="letter-spacing:1.3px">35mm</span>导轨式安装：安装时请注意卡位稳定、牢固；请尽可能垂直安装，以利于仪表内部热量散发。</div>
<div class="a" id="t2" style="left:393px;top:664px;font-size:49px;font-family:'Liberation Sans',sans-serif;font-weight:500;color:#111;-webkit-text-stroke:1.3px #111;">仪表选型</div>
<div class="a" id="t3" style="left:400px;top:715px;font-size:20.5px;font-family:'Liberation Sans',sans-serif;color:#1a1a1a;-webkit-text-stroke:0.45px #cfcdce;">Instrument Selection</div>
<div class="a" id="h1" style="left:27px;top:807.4px;font-size:25px;font-family:'Liberation Serif',serif;letter-spacing:1.8px;color:#231815;-webkit-text-stroke:0.55px #231815;">频率输入检测端隔离栅</div>
<div class="a" id="h2" style="left:604.5px;top:805px;font-size:26.5px;font-family:'Liberation Serif',serif;letter-spacing:0.3px;color:#231815;-webkit-text-stroke:0.45px #231815;">NHR-A34</div>
<div class="a" id="c_wei" style="left:66.3px;top:846px;font-size:25.5px;font-family:'Liberation Serif',serif;color:#231815;-webkit-text-stroke:0.55px #231815;">位</div>
<div class="a" id="c_gg" style="left:196px;top:846px;font-size:25.5px;font-family:'Liberation Serif',serif;letter-spacing:4px;color:#231815;-webkit-text-stroke:0.55px #231815;">规格</div>
<div class="a" id="c_zs" style="left:647px;top:848.5px;font-size:24px;font-family:'Liberation Serif',serif;letter-spacing:2.5px;color:#231815;-webkit-text-stroke:0.55px #231815;">注释</div>
<div class="a" id="r7" style="left:71.5px;top:884px;font-size:25px;font-family:'Liberation Serif',serif;color:#231815;">7</div>
<div class="a" id="s1" style="left:192px;top:885px;font-size:24px;font-family:'Liberation Serif',serif;letter-spacing:0.2px;color:#231815;-webkit-text-stroke:0.5px #fff;">＜输入＞</div>
<div class="a" id="s2" style="left:196.2px;top:924px;font-size:24px;font-family:'Liberation Serif',serif;letter-spacing:2.5px;color:#231815;-webkit-text-stroke:0.5px #fff;">频率信号</div>
<div class="a" id="r89" style="left:60px;top:966px;font-size:26px;font-family:'Liberation Serif',serif;letter-spacing:2px;color:#231815;">8/9</div>
<div class="a" id="s3" style="left:198px;top:959px;font-size:24px;font-family:'Liberation Serif',serif;letter-spacing:0.2px;color:#231815;-webkit-text-stroke:0.5px #fff;">＜输出＞</div>
<div class="a" id="s4" style="left:201px;top:998px;font-size:24px;font-family:'Liberation Serif',serif;letter-spacing:2.68px;color:#231815;-webkit-text-stroke:0.5px #fff;">输出<span style="-webkit-text-stroke:0">I/</span>输出<span style="-webkit-text-stroke:0">II(</span>从列表中选择代码<span style="-webkit-text-stroke:0">)</span></div>
<div class="a" id="s5" style="left:204px;top:1036px;font-size:25px;font-family:'Liberation Serif',serif;letter-spacing:1.5px;color:#231815;-webkit-text-stroke:0.55px #231815;">代码</div>
<div class="a" id="s6" style="left:303px;top:1037px;font-size:25px;font-family:'Liberation Serif',serif;letter-spacing:4px;color:#231815;-webkit-text-stroke:0.55px #231815;">类型</div>
<div class="a" id="k0" style="left:202.4px;top:1073px;font-size:25px;font-family:'Liberation Serif',serif;color:#231815;">X</div>
<div class="a" id="v0" style="left:303.6px;top:1074.5px;font-size:25px;font-family:'Liberation Serif',serif;letter-spacing:1.8px;color:#231815;-webkit-text-stroke:0.5px #fff;">无输出<span style="-webkit-text-stroke:0">(</span>仅限于第Ⅱ路<span style="-webkit-text-stroke:0">)</span></div>
<div class="a" id="k1" style="left:202.4px;top:1115px;font-size:25px;font-family:'Liberation Serif',serif;color:#231815;">0</div>
<div class="a" id="v1" style="left:300.8px;top:1115px;font-size:25px;font-family:'Liberation Serif',serif;letter-spacing:1.0px;color:#231815;">4~20mA</div>
<div class="a" id="k2" style="left:202.4px;top:1153px;font-size:25px;font-family:'Liberation Serif',serif;color:#231815;">1</div>
<div class="a" id="v2" style="left:300.8px;top:1153px;font-size:25px;font-family:'Liberation Serif',serif;letter-spacing:1.0px;color:#231815;">1~5V</div>
<div class="a" id="k3" style="left:202.4px;top:1192px;font-size:25px;font-family:'Liberation Serif',serif;color:#231815;">2</div>
<div class="a" id="v3" style="left:300.8px;top:1192px;font-size:25px;font-family:'Liberation Serif',serif;letter-spacing:1.0px;color:#231815;">0~10mA</div>
<div class="a" id="k4" style="left:202.4px;top:1230px;font-size:25px;font-family:'Liberation Serif',serif;color:#231815;">3</div>
<div class="a" id="v4" style="left:300.8px;top:1230px;font-size:25px;font-family:'Liberation Serif',serif;letter-spacing:1.0px;color:#231815;">0~5V</div>
<div class="a" id="k5" style="left:202.4px;top:1272px;font-size:25px;font-family:'Liberation Serif',serif;color:#231815;">4</div>
<div class="a" id="v5" style="left:300.8px;top:1272px;font-size:25px;font-family:'Liberation Serif',serif;letter-spacing:1.0px;color:#231815;">0~20mA</div>
<div class="a" id="k6" style="left:202.4px;top:1309px;font-size:25px;font-family:'Liberation Serif',serif;color:#231815;">5</div>
<div class="a" id="v6" style="left:300.8px;top:1310.5px;font-size:25px;font-family:'Liberation Serif',serif;letter-spacing:1.2px;color:#231815;-webkit-text-stroke:0.5px #fff;"><span style="-webkit-text-stroke:0">0~10V(</span>不可切换<span style="-webkit-text-stroke:0">)</span></div>
<div class="a" id="r10" style="left:73.4px;top:1350px;font-size:25px;font-family:'Liberation Serif',serif;color:#231815;">10</div>
<div class="a" id="p1" style="left:186.2px;top:1352.5px;font-size:24px;font-family:'Liberation Serif',serif;letter-spacing:1.4px;color:#231815;-webkit-text-stroke:0.5px #fff;">＜配电输出＞</div>
<div class="a" id="p2" style="left:186.5px;top:1393px;font-size:24px;font-family:'Liberation Serif',serif;letter-spacing:3.45px;color:#231815;-webkit-text-stroke:0.5px #fff;">无输出</div>
<div class="a" id="p3" style="left:187px;top:1430px;font-size:24px;font-family:'Liberation Serif',serif;letter-spacing:1.4px;color:#231815;-webkit-text-stroke:0.5px #fff;"><span style="-webkit-text-stroke:0">24V</span>配电</div>
<div class="a" id="p4" style="left:184px;top:1469.3px;font-size:24px;font-family:'Liberation Serif',serif;letter-spacing:2.2px;color:#231815;-webkit-text-stroke:0.5px #fff;"><span style="-webkit-text-stroke:0">12V</span>配电</div>
<div class="a" id="n7" style="left:765px;top:781.3px;font-size:18px;font-family:'Liberation Sans',sans-serif;color:#231815;">7</div>
<div class="a" id="n8" style="left:824px;top:781.3px;font-size:18px;font-family:'Liberation Sans',sans-serif;color:#231815;">8</div>
<div class="a" id="n9" style="left:879px;top:781.3px;font-size:18px;font-family:'Liberation Sans',sans-serif;color:#231815;">9</div>
<div class="a" id="n10" style="left:932px;top:781.3px;font-size:18px;font-family:'Liberation Sans',sans-serif;color:#231815;">10</div>
<div class="a" id="r38" style="left:758px;top:926px;font-size:26px;font-family:'Liberation Serif',serif;color:#231815;">38</div>
<div class="a" id="rX" style="left:932px;top:1389px;font-size:25px;font-family:'Liberation Serif',serif;color:#231815;">X</div>
<div class="a" id="lb1" style="left:57px;top:132px;font-size:16px;font-family:'Liberation Sans',sans-serif;letter-spacing:2.5px;color:#231815;">可插拔端子</div>
<div class="a" id="lb2" style="left:57px;top:479.2px;font-size:16px;font-family:'Liberation Sans',sans-serif;letter-spacing:2.5px;color:#231815;">可插拔端子</div>
<div class="a" id="lb3" style="left:53px;top:320px;font-size:16px;font-family:'Liberation Sans',sans-serif;letter-spacing:2.5px;color:#231815;">工作指示灯</div>
<div class="a" id="lb4" style="left:53px;top:339.9px;font-size:16px;font-family:'Liberation Sans',sans-serif;letter-spacing:2.5px;color:#231815;">绿色:正常工作</div>
<div class="a" id="lb5" style="left:53px;top:359.8px;font-size:16px;font-family:'Liberation Sans',sans-serif;letter-spacing:2.5px;color:#231815;">红色:故障信号</div>
</body></html>
